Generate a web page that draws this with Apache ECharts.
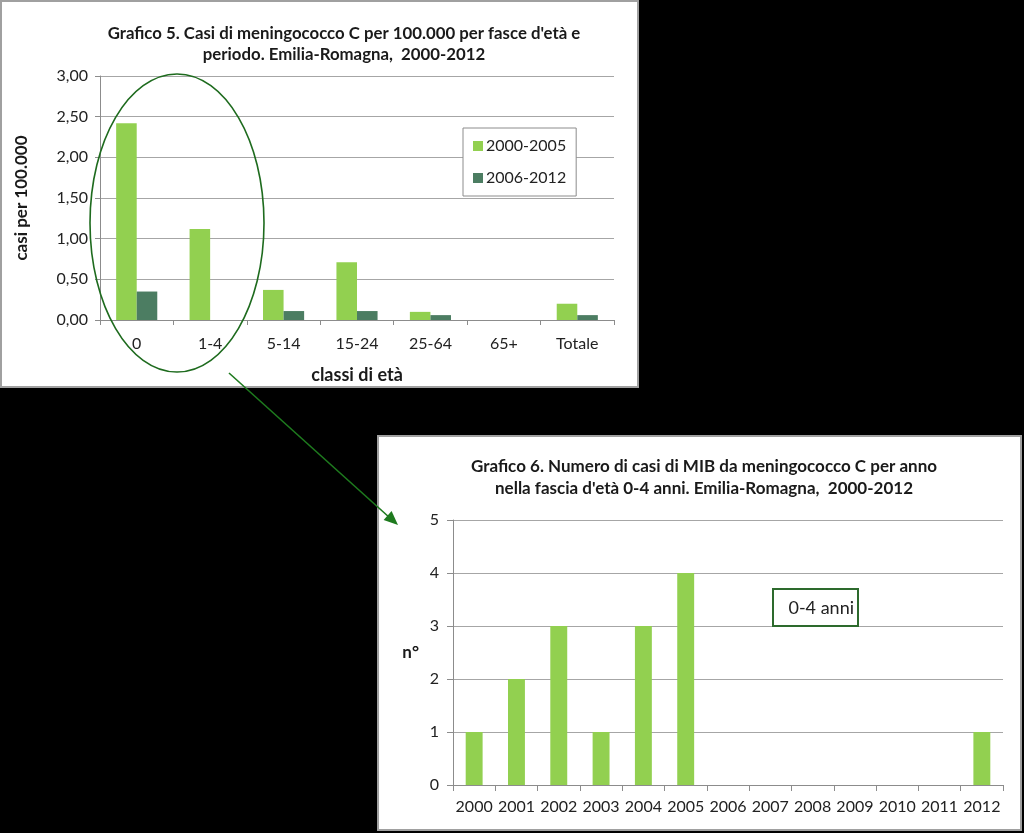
<!DOCTYPE html>
<html>
<head>
<meta charset="utf-8">
<script src="https://cdn.jsdelivr.net/npm/echarts@6/dist/echarts.min.js"></script>
<style>
html,body{margin:0;padding:0;background:#000;}
#c{width:1024px;height:833px;}
</style>
</head>
<body>
<div id="c"></div>
<script>
// ---- Chart 5 data ----
var ageClasses = ['0', '1-4', '5-14', '15-24', '25-64', '65+', 'Totale'];
var period1Name = '2000-2005';
var period2Name = '2006-2012';
var period1Values = [2.42, 1.12, 0.37, 0.71, 0.10, 0, 0.20];
var period2Values = [0.35, 0, 0.11, 0.11, 0.06, 0, 0.06];
var chart5Ticks = [0, 0.5, 1, 1.5, 2, 2.5, 3];

// ---- Chart 6 data ----
var years = ['2000', '2001', '2002', '2003', '2004', '2005', '2006', '2007', '2008', '2009', '2010', '2011', '2012'];
var casesPerYear = [1, 2, 3, 1, 3, 4, 0, 0, 0, 0, 0, 0, 1];
var chart6Ticks = [0, 1, 2, 3, 4, 5];

var FONT = 'Lato';
var LIGHT = '#92D050';
var DARK = '#4C7D62';
var GRIDC = '#A6A6A6';

var chart = echarts.init(document.getElementById('c'), null, {renderer: 'canvas'});

var option = {
  backgroundColor: '#000000',
  animation: false,
  textStyle: {fontFamily: FONT},
  title: [
    {
      text: 'Grafico 5. Casi di meningococco C per 100.000 per fasce d\'età e\nperiodo. Emilia-Romagna,  2000-2012',
      left: 339, top: 18, textAlign: 'center',
      textStyle: {fontFamily: FONT, fontWeight: 'bold', fontSize: 16.8, color: '#1a1a1a', lineHeight: 21}
    },
    {
      text: 'Grafico 6. Numero di casi di MIB da meningococco C per anno\nnella fascia d\'età 0-4 anni. Emilia-Romagna,  2000-2012',
      left: 699, top: 451, textAlign: 'center',
      textStyle: {fontFamily: FONT, fontWeight: 'bold', fontSize: 17, color: '#1a1a1a', lineHeight: 22}
    }
  ],
  legend: {
    data: [period1Name, period2Name],
    orient: 'vertical',
    left: 463, top: 128, width: 112, height: 69,
    padding: [10, 10, 10, 10],
    itemGap: 16,
    itemWidth: 10, itemHeight: 10,
    icon: 'rect',
    borderColor: '#8C8C8C', borderWidth: 1,
    backgroundColor: '#ffffff',
    textStyle: {fontFamily: FONT, fontSize: 16, color: '#222', padding: [0, 0, 0, -2]}
  },
  grid: [
    {left: 100, top: 76, width: 514, height: 244},
    {left: 453, top: 520, width: 550, height: 265}
  ],
  xAxis: [
    {
      type: 'category', gridIndex: 0, data: ageClasses,
      axisLine: {lineStyle: {color: '#8C8C8C'}},
      axisTick: {show: true, length: 5, lineStyle: {color: '#8C8C8C'}},
      axisLabel: {fontFamily: FONT, fontSize: 16, color: '#222', margin: 16},
      name: 'classi di età', nameLocation: 'middle', nameGap: 46,
      nameTextStyle: {fontFamily: FONT, fontWeight: 'bold', fontSize: 18, color: '#1a1a1a'}
    },
    {
      type: 'category', gridIndex: 1, data: years,
      axisLine: {lineStyle: {color: '#8C8C8C'}},
      axisTick: {show: true, length: 6, lineStyle: {color: '#8C8C8C'}},
      axisLabel: {fontFamily: FONT, fontSize: 16, color: '#222', margin: 14, interval: 0}
    }
  ],
  yAxis: [
    {
      type: 'value', gridIndex: 0, min: chart5Ticks[0], max: chart5Ticks[chart5Ticks.length - 1], interval: 0.5,
      axisLine: {show: true, lineStyle: {color: '#8C8C8C'}},
      axisTick: {show: true, length: 5, lineStyle: {color: '#8C8C8C'}},
      splitLine: {show: true, lineStyle: {color: GRIDC, width: 1}},
      axisLabel: {
        fontFamily: FONT, fontSize: 16, color: '#222', margin: 12,
        formatter: function (v) { return v.toFixed(2).replace('.', ','); }
      },
      name: 'casi per 100.000', nameLocation: 'middle', nameGap: 70, nameRotate: 90,
      nameTextStyle: {fontFamily: FONT, fontWeight: 'bold', fontSize: 17, color: '#1a1a1a'}
    },
    {
      type: 'value', gridIndex: 1, min: chart6Ticks[0], max: chart6Ticks[chart6Ticks.length - 1], interval: 1,
      axisLine: {show: true, lineStyle: {color: '#8C8C8C'}},
      axisTick: {show: true, length: 6, lineStyle: {color: '#8C8C8C'}},
      splitLine: {show: true, lineStyle: {color: GRIDC, width: 1}},
      axisLabel: {fontFamily: FONT, fontSize: 16, color: '#222', margin: 14},
      name: 'n°', nameLocation: 'middle', nameGap: 34, nameRotate: 0,
      nameTextStyle: {fontFamily: FONT, fontWeight: 'bold', fontSize: 17, color: '#1a1a1a'}
    }
  ],
  series: [
    {
      name: period1Name, type: 'bar', xAxisIndex: 0, yAxisIndex: 0,
      data: period1Values, barGap: '0%', barCategoryGap: '44%',
      itemStyle: {color: LIGHT}
    },
    {
      name: period2Name, type: 'bar', xAxisIndex: 0, yAxisIndex: 0,
      data: period2Values, barGap: '0%', barCategoryGap: '44%',
      itemStyle: {color: DARK}
    },
    {
      name: 'casi 0-4 anni', type: 'bar', xAxisIndex: 1, yAxisIndex: 1,
      data: casesPerYear, barCategoryGap: '60%',
      itemStyle: {color: LIGHT}
    }
  ],
  graphic: [
    {type: 'rect', z: -100, shape: {x: 1, y: 1, width: 637, height: 386},
      style: {fill: '#ffffff', stroke: '#A0A0A0', lineWidth: 2}},
    {type: 'rect', z: -100, shape: {x: 378, y: 436, width: 643, height: 394},
      style: {fill: '#ffffff', stroke: '#A0A0A0', lineWidth: 2}},
    {type: 'ellipse', z: 100, shape: {cx: 177, cy: 223, rx: 87, ry: 149},
      style: {fill: 'none', stroke: '#1E6B1E', lineWidth: 1.6}},
    {type: 'line', z: 100, shape: {x1: 229, y1: 373, x2: 390, y2: 518},
      style: {stroke: '#1E7A1E', lineWidth: 1.6}},
    {type: 'polygon', z: 100, shape: {points: [[398, 525], [383.6, 520.1], [391.6, 511.1]]},
      style: {fill: '#1E7A1E'}},
    {type: 'rect', z: 100, shape: {x: 773, y: 589, width: 85, height: 37},
      style: {fill: '#ffffff', stroke: '#2D6A2D', lineWidth: 2}},
    {type: 'text', z: 101, x: 854, y: 608,
      style: {text: '0-4 anni', fontFamily: FONT, fontSize: 18, fill: '#222', align: 'right', verticalAlign: 'middle'}}
  ]
};

chart.setOption(option);
</script>
</body>
</html>
